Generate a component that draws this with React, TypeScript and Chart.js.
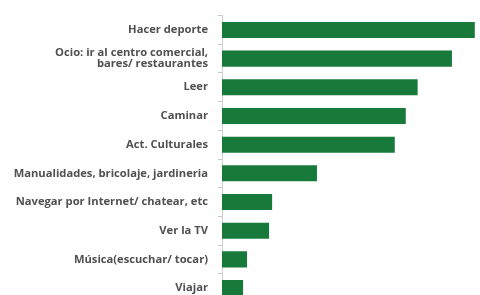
import React, { useEffect, useRef } from "react";
import { Chart, registerables } from "chart.js";

Chart.register(...registerables);

const categories: (string | string[])[] = [
  "Hacer deporte",
  ["Ocio: ir al centro comercial,", "bares/ restaurantes"],
  "Leer",
  "Caminar",
  "Act. Culturales",
  "Manualidades, bricolaje, jardineria",
  "Navegar por Internet/ chatear, etc",
  "Ver la TV",
  "Música(escuchar/ tocar)",
  "Viajar",
];

const values = [57.5, 52.3, 44.5, 41.8, 39.3, 21.6, 11.4, 10.7, 5.7, 4.8];

const H = 318;

export default function App() {
  const ref = useRef<HTMLCanvasElement>(null);
  useEffect(() => {
    if (!ref.current) return;
    const chart = new Chart(ref.current, {
      type: "bar",
      data: {
        labels: categories,
        datasets: [
          {
            data: values,
            backgroundColor: "#177a3b",
            borderWidth: 0,
            categoryPercentage: 1,
            barPercentage: 0.56,
          },
        ],
      },
      options: {
        indexAxis: "y",
        animation: false,
        responsive: false,
        maintainAspectRatio: false,
        layout: { padding: { top: 13, right: 3, left: 0, bottom: 0 } },
        plugins: { legend: { display: false }, tooltip: { enabled: false } },
        scales: {
          x: {
            display: false,
            min: 0,
            max: 58,
          },
          y: {
            afterFit: (scale: any) => {
              scale.width = 222;
            },
            border: { display: true, color: "#d0d0d0", width: 1 },
            grid: {
              drawOnChartArea: false,
              drawTicks: true,
              tickLength: 4,
              color: "#c8c8c8",
              offset: true,
            },
            ticks: {
              color: "#505050",
              padding: 10,
              font: { family: "Open Sans", size: 11.2, weight: "bold", lineHeight: 1.0 },
            },
          },
        },
      },
    });
    return () => chart.destroy();
  }, []);
  return (
    <div style={{ position: "fixed", left: 0, top: 0, width: 480, height: H, background: "#fff" }}>
      <canvas ref={ref} width={480} height={H} style={{ width: 480, height: H }} />
    </div>
  );
}
